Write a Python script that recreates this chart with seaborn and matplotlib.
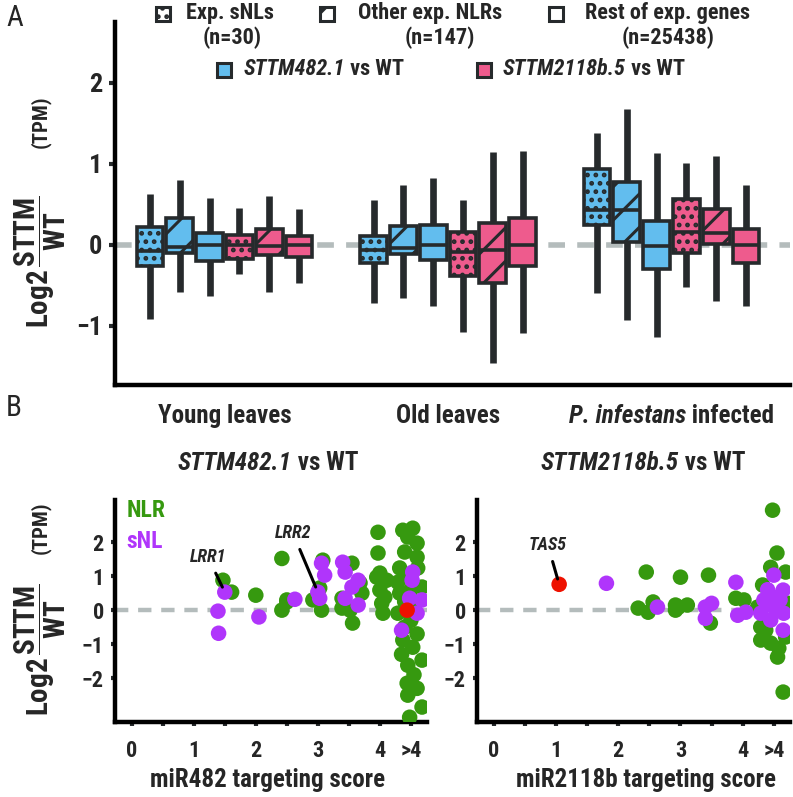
import numpy as np
import pandas as pd
import matplotlib
matplotlib.use("Agg")
import matplotlib.pyplot as plt
import seaborn as sns
from matplotlib import font_manager as fm
from matplotlib.patches import Rectangle

# ---------------- data: panel A (five-number summaries) ----------------
conditions = ["Young leaves", "Old leaves", "P. infestans infected"]
series_labels = ["482 sNL", "482 NLR", "482 rest", "2118 sNL", "2118 NLR", "2118 rest"]
# each entry: [lower whisker, Q1, median, Q3, upper whisker]
young_482_snl = [-0.91, -0.26, -0.08, 0.22, 0.63]
young_482_nlr = [-0.58, -0.10, -0.03, 0.33, 0.80]
young_482_rest = [-0.63, -0.20, 0.00, 0.15, 0.58]
young_2118_snl = [-0.36, -0.18, 0.00, 0.12, 0.45]
young_2118_nlr = [-0.58, -0.12, -0.02, 0.19, 0.60]
young_2118_rest = [-0.47, -0.15, 0.00, 0.11, 0.44]
old_482_snl = [-0.72, -0.22, -0.06, 0.11, 0.55]
old_482_nlr = [-0.66, -0.11, -0.04, 0.23, 0.74]
old_482_rest = [-0.76, -0.19, 0.00, 0.25, 0.83]
old_2118_snl = [-1.07, -0.39, -0.09, 0.16, 0.55]
old_2118_nlr = [-1.46, -0.47, -0.06, 0.27, 1.15]
old_2118_rest = [-1.09, -0.26, 0.00, 0.33, 1.16]
inf_482_snl = [-0.60, 0.25, 0.43, 0.93, 1.38]
inf_482_nlr = [-0.93, 0.03, 0.43, 0.78, 1.68]
inf_482_rest = [-1.14, -0.30, -0.01, 0.30, 1.13]
inf_2118_snl = [-0.52, -0.10, 0.16, 0.56, 1.01]
inf_2118_nlr = [-0.69, 0.01, 0.15, 0.44, 1.10]
inf_2118_rest = [-0.76, -0.22, 0.00, 0.19, 0.74]

# ---------------- data: panel B (targeting score vs log2 fold change) ----------------
mir482_nlr_x = [1.47, 1.61, 2.0, 2.42, 2.5, 2.42, 2.5, 2.92, 3.06, 3.08, 3.03, 3.55, 3.39, 3.39, 3.56,
                3.52, 3.71, 3.68, 3.97, 3.97, 3.95, 4.0, 4.0, 4.03, 4.05, 4.11, 4.08, 4.37, 4.53, 4.45,
                4.6, 4.4, 4.6, 4.61, 4.32, 4.29, 4.32, 4.68, 4.29, 4.37, 4.53, 4.68, 4.45, 4.44, 4.45,
                4.68, 4.48, 4.5, 4.55, 4.4, 4.5, 4.4, 4.6, 4.45, 4.35, 4.55, 4.6]
mir482_nlr_y = [0.88, 0.53, 0.44, 0.0, 0.24, 1.52, 0.3, 0.3, 0.0, 1.47, 0.65, 1.38, 0.35, 0.06, -0.38,
                0.0, 0.5, 0.8, 2.29, 1.68, 0.97, 1.09, 0.59, 0.2, -0.09, 0.88, 0.38, 2.35, 2.41, 2.15,
                1.97, 1.71, 1.56, 1.24, 1.24, 0.82, 0.5, 0.68, -0.09, -0.88, -1.09, -1.47, -1.62, -2.15, -2.5,
                -2.85, -3.15, 0.6, 0.1, 0.25, -0.3, -0.5, -0.7, 1.0, -1.3, -1.9, -2.3]
mir482_snl_x = [1.5, 1.39, 1.4, 2.05, 2.63, 3.0, 3.03, 3.06, 3.11, 3.4, 3.44, 3.65, 3.55, 3.44, 3.65,
                4.53, 4.52, 4.48, 4.68, 4.6, 4.35]
mir482_snl_y = [0.53, -0.03, -0.68, -0.2, 0.32, 0.53, 0.35, 1.38, 1.03, 1.41, 1.12, 0.88, 0.68, 0.35, 0.15,
                1.12, 0.88, 0.35, 0.3, -0.09, -0.59]
mir482_tas5_x = [4.44]
mir482_tas5_y = [0.0]

mir2118_nlr_x = [2.45, 2.32, 2.48, 2.56, 3.0, 2.92, 2.92, 3.11, 3.45, 3.48, 3.89, 4.02, 4.48, 4.55, 4.45,
                 4.69, 4.32, 4.29, 4.29, 4.45, 4.56, 4.69, 4.74, 4.24, 4.65, 4.37, 4.58, 2.97]
mir2118_nlr_y = [1.12, 0.06, -0.06, 0.24, 0.97, 0.15, 0.0, 0.15, 1.03, -0.38, 0.35, 0.3, 2.94, 1.68, 1.26,
                 1.12, 0.74, -0.5, -0.88, -0.97, -1.38, -0.79, 0.2, 0.09, -2.41, -0.59, -1.12, 0.09]
mir2118_snl_x = [1.81, 2.63, 3.4, 3.5, 3.4, 3.89, 3.92, 4.05, 4.5, 4.65, 4.34, 4.5, 4.29, 4.53, 4.66,
                 4.45, 4.65, 4.4, 4.6, 4.45]
mir2118_snl_y = [0.79, 0.09, 0.09, 0.2, -0.24, 0.82, -0.15, -0.06, 1.03, 0.59, 0.3, 0.38, -0.09, 0.0, -0.09,
                 -0.29, -0.59, 0.6, 0.3, 0.15]
mir2118_tas5_x = [1.05]
mir2118_tas5_y = [0.76]

score_ticks = [0, 1, 2, 3, 4, 4.5]
score_ticklabels = ["0", "1", "2", "3", "4", ">4"]

# ---------------- style ----------------
def pick(cands):
    for c in cands:
        try:
            fm.findfont(fm.FontProperties(family=c), fallback_to_default=False)
            return c
        except Exception:
            pass
    return "DejaVu Sans"

sns.set_theme(style="white")
FONT = pick(["Liberation Sans Narrow", "Roboto Condensed", "Roboto", "Liberation Sans"])
plt.rcParams["font.family"] = [FONT, "DejaVu Sans"]
plt.rcParams["font.weight"] = "bold"
plt.rcParams["mathtext.fontset"] = "custom"
plt.rcParams["mathtext.rm"] = f"{FONT}:bold"
plt.rcParams["mathtext.bf"] = f"{FONT}:bold"
plt.rcParams["mathtext.it"] = f"{FONT}:italic:bold"
plt.rcParams["hatch.linewidth"] = 2.2

DARK = "#262a2c"
BLUE = "#62bdee"
PINK = "#ee5b8d"
GREEN = "#36990f"
PURPLE = "#b035fb"
RED = "#ee1100"
GRAY = "#b4bcbc"

W, H = 793, 797
def rect(l, t, r, b):
    return [l / W, 1 - b / H, (r - l) / W, (b - t) / H]

fig = plt.figure(figsize=(W / 100, H / 100), dpi=100)
renderer = fig.canvas.get_renderer()

def mixed(x, y, parts, size, ha="center"):
    """Draw consecutive text pieces [(text, style), ...] on one line at figure pixel (x, y)."""
    texts, widths = [], []
    for s, st in parts:
        t = fig.text(0, 0, s, fontsize=size, style=st, ha="left", va="center")
        texts.append(t)
        widths.append(t.get_window_extent(renderer).width)
    cur = x - sum(widths) / 2 if ha == "center" else x
    for t, w in zip(texts, widths):
        t.set_position((cur / W, 1 - y / H))
        cur += w

# ---------------- panel A ----------------
axA = fig.add_axes(rect(115, 22, 790, 385))
summaries = {
    "Young leaves": [young_482_snl, young_482_nlr, young_482_rest, young_2118_snl, young_2118_nlr, young_2118_rest],
    "Old leaves": [old_482_snl, old_482_nlr, old_482_rest, old_2118_snl, old_2118_nlr, old_2118_rest],
    "P. infestans infected": [inf_482_snl, inf_482_nlr, inf_482_rest, inf_2118_snl, inf_2118_nlr, inf_2118_rest],
}
rows = []
for cond in conditions:
    for ser, vals in zip(series_labels, summaries[cond]):
        for v in vals:
            rows.append((cond, ser, v))
dfA = pd.DataFrame(rows, columns=["condition", "series", "value"])
palette = {s: (BLUE if s.startswith("482") else PINK) for s in series_labels}

axA.axhline(0, color=GRAY, lw=4, dashes=(3, 2.2), zorder=0)
sns.boxplot(data=dfA, x="condition", y="value", hue="series", order=conditions,
            hue_order=series_labels, palette=palette, saturation=1, whis=(0, 100),
            width=0.8, gap=0.1, linewidth=2.6, linecolor=DARK, showcaps=False,
            showfliers=False, legend=False, ax=axA,
            whiskerprops=dict(linewidth=4.8, color=DARK),
            medianprops=dict(linewidth=2.6, color=DARK),
            boxprops=dict(linewidth=2.6, edgecolor=DARK))
nh = len(series_labels)
step = 0.8 / nh
for p in axA.patches:
    v = p.get_path().vertices
    if len(v) == 0:
        continue
    xc = (v[:, 0].min() + v[:, 0].max()) / 2
    off = xc - round(xc)
    idx = int(round((off + 0.4 - step / 2) / step))
    cls = idx % 3
    if cls == 0:
        p.set_hatch("..")
    elif cls == 1:
        p.set_hatch("/")
    p.set_edgecolor(DARK)

axA.set_xlim(-0.49, 2.53)
axA.set_ylim(-1.73, 2.75)
axA.set_yticks([-1, 0, 1, 2])
axA.set_yticklabels(["\u22121", "0", "1", "2"])
axA.set_xticks([0, 1, 2])
axA.set_xticklabels(["Young leaves", "Old leaves", ""])
axA.set_xticks([0.5, 1.5], minor=True)
axA.tick_params(axis="x", which="major", length=0, pad=14, labelsize=18)
axA.tick_params(axis="x", which="minor", length=34, width=2.6, color=DARK, direction="out")
axA.tick_params(axis="y", which="major", length=4, width=3, color=DARK, pad=5, labelsize=19, left=True)
axA.set_xlabel("")
axA.set_ylabel("")
for s in ["top", "right"]:
    axA.spines[s].set_visible(False)
for s in ["left", "bottom"]:
    axA.spines[s].set_linewidth(3.2)
    axA.spines[s].set_color("black")

# ---------------- panel B ----------------
def scatter_panel(ax, nx, ny, sx, sy, tx, ty):
    d = pd.DataFrame({
        "score": list(nx) + list(sx) + list(tx),
        "log2fc": list(ny) + list(sy) + list(ty),
        "class": ["NLR"] * len(nx) + ["sNL"] * len(sx) + ["TAS5"] * len(tx),
    })
    ax.axhline(0, color=GRAY, lw=3.2, dashes=(3, 2.2), zorder=0)
    sns.scatterplot(data=d, x="score", y="log2fc", hue="class", hue_order=["NLR", "sNL", "TAS5"],
                    palette={"NLR": GREEN, "sNL": PURPLE, "TAS5": RED}, s=125, linewidth=0,
                    legend=False, ax=ax, zorder=3)
    ax.set_xlim(-0.27, 4.76)
    ax.set_ylim(-3.29, 3.24)
    ax.set_xticks(score_ticks)
    ax.set_xticklabels(score_ticklabels)
    ax.set_xticks(np.arange(0, 4.6, 0.5), minor=True)
    ax.set_yticks([-2, -1, 0, 1, 2])
    ax.set_yticklabels(["\u22122", "\u22121", "0", "1", "2"])
    ax.tick_params(axis="both", which="both", length=3, width=3, color=DARK)
    ax.tick_params(axis="x", which="major", pad=10, labelsize=16)
    ax.tick_params(axis="y", which="major", pad=5, labelsize=16)
    ax.tick_params(bottom=True, left=True, which="both")
    ax.set_xlabel("")
    ax.set_ylabel("")
    for s in ["top", "right"]:
        ax.spines[s].set_visible(False)
    for s in ["left", "bottom"]:
        ax.spines[s].set_linewidth(3.2)
        ax.spines[s].set_color("black")

axB1 = fig.add_axes(rect(115, 500, 427, 722))
axB2 = fig.add_axes(rect(477, 500, 790, 722))
scatter_panel(axB1, mir482_nlr_x, mir482_nlr_y, mir482_snl_x, mir482_snl_y, mir482_tas5_x, mir482_tas5_y)
scatter_panel(axB2, mir2118_nlr_x, mir2118_nlr_y, mir2118_snl_x, mir2118_snl_y, mir2118_tas5_x, mir2118_tas5_y)

axB1.text(-0.08, 2.94, "NLR", color=GREEN, fontsize=17, ha="left", va="center", clip_on=False)
axB1.text(-0.08, 2.03, "sNL", color=PURPLE, fontsize=17, ha="left", va="center", clip_on=False)

ann = dict(arrowstyle="-", lw=2.2, color="black", shrinkA=3, shrinkB=4)
axB1.annotate("LRR1", xy=(mir482_snl_x[0], mir482_snl_y[0]), xytext=(1.23, 1.56), fontsize=13,
              style="italic", ha="center", va="center", arrowprops=ann)
axB1.annotate("LRR2", xy=(mir482_snl_x[5], mir482_snl_y[5]), xytext=(2.6, 2.26), fontsize=13,
              style="italic", ha="center", va="center", arrowprops=ann)
axB2.annotate("TAS5", xy=(mir2118_tas5_x[0], mir2118_tas5_y[0]), xytext=(0.87, 1.91), fontsize=13,
              style="italic", ha="center", va="center", arrowprops=ann)

# ---------------- figure texts ----------------
def ft(x, y, s, **kw):
    fig.text(x / W, 1 - y / H, s, **kw)

ft(6, 18, "A", fontsize=21, fontweight="normal", ha="left", va="center")
ft(6, 408, "B", fontsize=21, fontweight="normal", ha="left", va="center")

# third category label (italic + regular pieces) aligned with the tick labels
fig.canvas.draw()
lab = axA.get_xticklabels()[0].get_window_extent(renderer)
ylab_px = H - (lab.y0 + lab.y1) / 2
xc3 = axA.transData.transform((2, 0))[0]
mixed(xc3, ylab_px, [("P. infestans", "italic"), (" infected", "normal")], 18)

ylab = r"$\mathrm{Log2}\,\dfrac{\mathrm{STTM}}{\mathrm{WT}}$"
ft(40, 262, ylab, fontsize=21, rotation=90, ha="center", va="center")
ft(40, 122, "(TPM)", fontsize=15, rotation=90, ha="center", va="center")
ft(40, 650, ylab, fontsize=21, rotation=90, ha="center", va="center")
ft(40, 528, "(TPM)", fontsize=15, rotation=90, ha="center", va="center")

mixed(268, 463, [("STTM482.1", "italic"), (" vs WT", "normal")], 18)
mixed(643, 463, [("STTM2118b.5", "italic"), (" vs WT", "normal")], 18)
ft(268, 780, "miR482 targeting score", fontsize=18, ha="center", va="center")
ft(646, 780, "miR2118b targeting score", fontsize=18, ha="center", va="center")

# legend (top of panel A)
def legend_square(cx, cy, face, hatch=None):
    sz = 14
    r = Rectangle(((cx - sz / 2) / W, 1 - (cy + sz / 2) / H), sz / W, sz / H,
                  transform=fig.transFigure, facecolor=face, edgecolor=DARK, lw=2.2,
                  hatch=hatch)
    fig.add_artist(r)

legend_square(163, 14, "white", "..")
ft(186, 13, "Exp. sNLs", fontsize=16, ha="left", va="center")
ft(232, 38, "(n=30)", fontsize=16, ha="center", va="center")
legend_square(327, 14, "white", "/")
ft(358, 13, "Other exp. NLRs", fontsize=16, ha="left", va="center")
ft(440, 38, "(n=147)", fontsize=16, ha="center", va="center")
legend_square(556, 14, "white")
ft(585, 13, "Rest of exp. genes", fontsize=16, ha="left", va="center")
ft(668, 38, "(n=25438)", fontsize=16, ha="center", va="center")
legend_square(224, 70, BLUE)
mixed(244, 69, [("STTM482.1", "italic"), (" vs WT", "normal")], 16, ha="left")
legend_square(484, 70, PINK)
mixed(503, 69, [("STTM2118b.5", "italic"), (" vs WT", "normal")], 16, ha="left")

fig.savefig("out.png", dpi=100)
